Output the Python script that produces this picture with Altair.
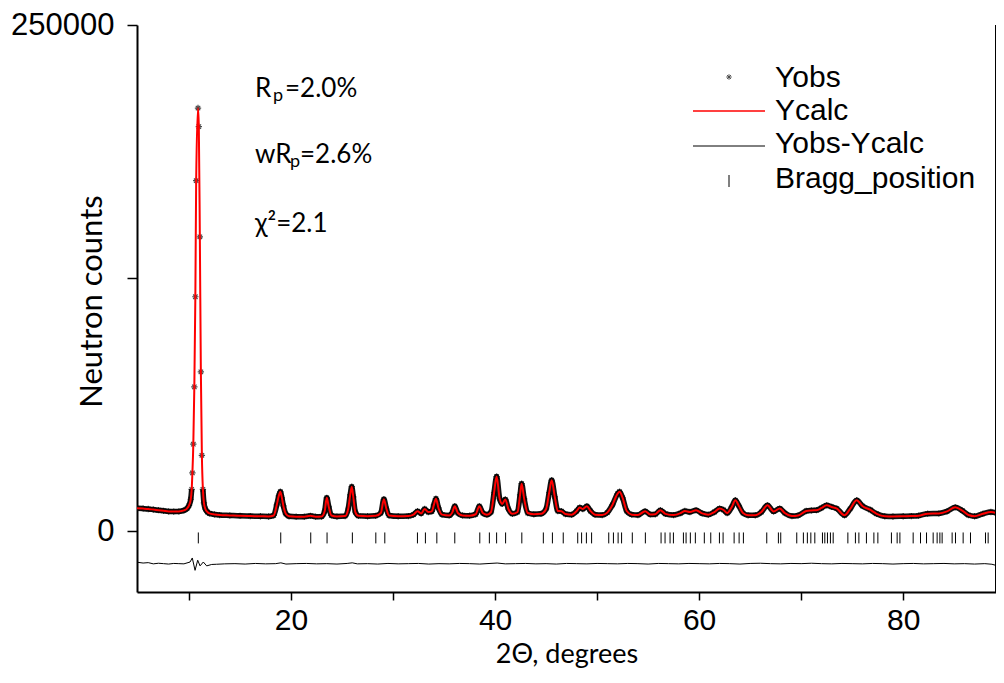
import altair as alt
import pandas as pd

# ---------------- data ----------------
two_theta = [
    4.9, 5.5, 6.0, 6.5, 7.0, 7.5, 8.0, 8.5, 9.0, 9.5, 9.8, 10.0, 10.17, 10.26, 10.33, 10.42,
    10.52, 10.62, 10.7, 10.88, 10.96, 11.06, 11.16, 11.26, 11.36, 11.46, 11.6, 11.8, 12.0,
    12.5, 13.0, 14.0, 15.0, 16.0, 17.0, 17.8, 18.3, 18.6, 18.8, 18.95, 19.1, 19.25, 19.5,
    19.8, 20.5, 21.3, 21.9, 22.4, 23.0, 23.3, 23.5, 23.7, 23.95, 24.5, 25.3, 25.6, 25.8,
    25.95, 26.1, 26.3, 26.6, 27.5, 28.3, 28.8, 29.1, 29.35, 29.6, 30.5, 31.5, 32.0, 32.4,
    32.75, 33.1, 33.45, 33.8, 34.0, 34.2, 34.45, 34.8, 35.5, 35.8, 36.05, 36.35, 36.8, 37.5,
    38.1, 38.45, 38.8, 39.2, 39.6, 39.9, 40.15, 40.45, 40.7, 41.0, 41.3, 41.7, 42.2, 42.45,
    42.6, 42.85, 43.2, 43.8, 44.5, 45.0, 45.3, 45.55, 45.85, 46.15, 46.5, 46.9, 47.5, 48.0,
    48.3, 48.6, 49.0, 49.35, 49.8, 50.5, 51.0, 51.5, 52.0, 52.2, 52.5, 52.9, 53.4, 54.0,
    54.7, 55.2, 55.7, 56.2, 56.7, 57.5, 58.2, 58.6, 59.1, 59.7, 60.3, 60.9, 61.5, 62.0,
    62.4, 62.75, 63.2, 63.55, 63.9, 64.3, 64.8, 65.5, 66.1, 66.7, 67.3, 67.9, 68.4, 69.1,
    69.7, 70.5, 71.0, 71.5, 72.0, 72.5, 73.0, 73.5, 74.25, 74.8, 75.45, 76.0, 76.8, 77.4,
    78.2, 79.0, 80.0, 80.8, 81.5, 82.4, 83.5, 84.3, 85.1, 85.8, 86.4, 87.0, 87.8, 88.6,
    89.3, 89.8,
]
y_calc = [
    11400, 11200, 11000, 10700, 10400, 10100, 9800, 9700, 9800, 10300, 11200, 12800, 15800,
    20700, 28800, 43000, 71300, 115800, 173100, 209000, 199800, 145400, 78700, 37500, 20700,
    14000, 11000, 9500, 8800, 8300, 8000, 7800, 7600, 7500, 7400, 7300, 7800, 13000, 17500,
    19500, 16500, 12500, 8500, 7400, 7200, 7200, 7600, 7200, 7300, 10000, 16500, 12000, 7800,
    7300, 7500, 11000, 18000, 22000, 17000, 9500, 7600, 7400, 7600, 9000, 15800, 11000, 7800,
    7400, 7500, 8200, 9900, 8800, 11000, 9500, 9800, 13000, 16100, 11500, 8200, 7800, 9200,
    12400, 9000, 7800, 7700, 8400, 12400, 9000, 8200, 9500, 19000, 27000, 16000, 13500,
    15700, 11000, 8600, 9500, 18000, 23500, 16000, 9000, 8400, 8600, 11000, 19000, 25200,
    17000, 10000, 9900, 8500, 8200, 10000, 11700, 11000, 12400, 10000, 8200, 8000, 9200,
    13000, 18500, 19500, 16500, 10000, 8200, 8000, 9900, 8300, 8400, 10400, 8600, 8000, 9000,
    10000, 9500, 10400, 8800, 8200, 9500, 11200, 10500, 9000, 12000, 15300, 12500, 9000,
    7900, 7900, 9500, 12800, 9800, 11200, 9000, 7500, 7800, 10000, 10300, 10400, 11500,
    12800, 12000, 11200, 7900, 11000, 15300, 12500, 10500, 8600, 7400, 7300, 7400, 7500,
    7700, 8700, 8800, 9800, 11800, 10200, 8000, 7400, 8600, 9500, 8600, 7100,
]
# observed points coincide with the fit within the picture's resolution
y_obs = [
    11400, 11200, 11000, 10700, 10400, 10100, 9800, 9700, 9800, 10300, 11200, 12800, 15800,
    20700, 28800, 43000, 71300, 115800, 173100, 209000, 199800, 145400, 78700, 37500, 20700,
    14000, 11000, 9500, 8800, 8300, 8000, 7800, 7600, 7500, 7400, 7300, 7800, 13000, 17500,
    19500, 16500, 12500, 8500, 7400, 7200, 7200, 7600, 7200, 7300, 10000, 16500, 12000, 7800,
    7300, 7500, 11000, 18000, 22000, 17000, 9500, 7600, 7400, 7600, 9000, 15800, 11000, 7800,
    7400, 7500, 8200, 9900, 8800, 11000, 9500, 9800, 13000, 16100, 11500, 8200, 7800, 9200,
    12400, 9000, 7800, 7700, 8400, 12400, 9000, 8200, 9500, 19000, 27000, 16000, 13500,
    15700, 11000, 8600, 9500, 18000, 23500, 16000, 9000, 8400, 8600, 11000, 19000, 25200,
    17000, 10000, 9900, 8500, 8200, 10000, 11700, 11000, 12400, 10000, 8200, 8000, 9200,
    13000, 18500, 19500, 16500, 10000, 8200, 8000, 9900, 8300, 8400, 10400, 8600, 8000, 9000,
    10000, 9500, 10400, 8800, 8200, 9500, 11200, 10500, 9000, 12000, 15300, 12500, 9000,
    7900, 7900, 9500, 12800, 9800, 11200, 9000, 7500, 7800, 10000, 10300, 10400, 11500,
    12800, 12000, 11200, 7900, 11000, 15300, 12500, 10500, 8600, 7400, 7300, 7400, 7500,
    7700, 8700, 8800, 9800, 11800, 10200, 8000, 7400, 8600, 9500, 8600, 7100,
]

diff_theta = [
    4.9, 5.5, 6.0, 6.5, 7.0, 7.5, 8.0, 8.5, 9.0, 9.5, 10.1, 10.32, 10.59, 10.85, 11.08, 11.4,
    11.73, 12.22, 12.7, 13.5, 14.5, 15.5, 16.5, 17.5, 18.5, 19.0, 19.5, 20.5, 21.5, 22.5,
    23.5, 24.5, 25.5, 26.0, 26.5, 27.5, 28.5, 29.5, 30.5, 31.5, 32.5, 33.5, 34.5, 35.5, 36.5,
    37.5, 38.5, 39.5, 40.2, 41.0, 42.0, 43.0, 44.0, 45.0, 46.0, 47.0, 48.0, 49.0, 50.0, 51.0,
    52.0, 53.0, 54.0, 55.0, 56.0, 57.0, 58.0, 59.0, 60.0, 61.0, 62.0, 63.0, 64.0, 65.0, 66.0,
    67.0, 68.0, 69.0, 70.0, 71.0, 72.0, 73.0, 74.0, 75.0, 76.0, 77.0, 78.0, 79.0, 80.0, 81.0,
    82.0, 83.0, 84.0, 85.0, 86.0, 87.0, 88.0, 88.7, 89.2, 89.5, 89.8,
]
y_diff = [
    -15300, -15700, -15500, -16100, -15800, -16000, -16200, -15900, -16000, -16100, -15200,
    -13200, -19300, -14300, -17100, -15200, -17100, -16400, -16300, -16100, -16000, -16200,
    -15900, -16100, -16000, -15600, -16200, -16000, -15900, -16100, -16000, -16200, -15900,
    -15600, -16100, -16000, -16200, -15900, -16100, -16000, -15900, -16200, -16000, -16100,
    -15900, -16000, -16200, -15900, -15700, -16100, -16000, -15900, -16100, -16000, -16200,
    -15900, -16000, -16100, -15900, -16000, -16100, -15900, -16000, -16200, -15900, -16000,
    -16100, -15900, -16000, -16100, -15900, -16000, -16200, -15900, -15800, -16000, -16100,
    -15900, -16000, -15800, -16000, -16100, -15900, -16000, -16100, -15900, -16000, -16200,
    -16000, -15900, -16100, -16000, -15900, -16100, -16000, -16200, -16000, -16300, -17000,
    -17300, -15900,
]

bragg_theta = [
    10.91, 18.99, 21.93, 23.53, 26.01, 28.31, 29.19, 32.39, 33.17, 34.29, 36.05, 38.5, 39.44,
    40.15, 41.03, 42.62, 44.73, 45.62, 46.68, 48.1, 48.48, 48.95, 49.46, 51.14, 51.6, 52.06,
    52.4, 53.45, 54.73, 56.27, 56.66, 57.15, 57.48, 58.46, 58.72, 59.14, 59.63, 60.51, 61.14,
    61.99, 62.35, 63.43, 63.92, 64.34, 66.63, 67.77, 68.0, 69.57, 70.22, 70.61, 70.95, 71.34,
    72.09, 72.32, 72.58, 72.87, 73.14, 74.58, 75.32, 75.66, 76.4, 77.13, 77.52, 78.85, 79.41,
    79.68, 80.98, 81.7, 82.29, 82.94, 83.33, 83.6, 83.82, 84.8, 85.13, 85.88, 86.6, 88.07,
    88.33, 89.14, 89.38,
]

legend_labels = ["Yobs", "Ycalc", "Yobs-Ycalc", "Bragg_position"]
x_ticks = [10, 20, 30, 40, 50, 60, 70, 80]
y_ticks = [0, 125000, 250000]
x_domain = [4.9, 89.1]
y_domain = [-30000, 250000]

# ---------------- chart ----------------
W, H = 859, 567
ARIAL = "Liberation Sans, Arial, sans-serif"
CALIBRI = "Lato, Noto Sans, sans-serif"
ASTERISK = "M-1,0L1,0M0,-1L0,1M-0.7,-0.7L0.7,0.7M-0.7,0.7L0.7,-0.7"

prof = pd.DataFrame({"tt": two_theta, "calc": y_calc, "obs": y_obs})
diff = pd.DataFrame({"tt": diff_theta, "d": y_diff})
bragg = pd.DataFrame({"tt": bragg_theta})

xs = alt.Scale(domain=x_domain, nice=False, zero=False)
ys = alt.Scale(domain=y_domain, nice=False, zero=False)

x_axis = alt.Axis(
    values=x_ticks,
    labelExpr="datum.value % 20 == 0 ? datum.label : ''",
    title="2Θ, degrees",
    titleFont=CALIBRI, titleFontSize=27, titleFontWeight="normal",
    titleBaseline="alphabetic", titleY=70,
    labelFont=ARIAL, labelFontSize=30, labelPadding=5, tickSize=8,
    labelFlush=False, grid=False,
)
y_axis = alt.Axis(
    values=y_ticks, format="d",
    labelExpr="datum.value == 125000 ? '' : datum.label",
    title="Neutron counts",
    titleFont=CALIBRI, titleFontSize=31, titleFontWeight="normal",
    titleAngle=270, titleAlign="center", titleBaseline="middle",
    titleX=-45, titleY=276,
    labelFont=ARIAL, labelFontSize=31, labelPadding=13, tickSize=10,
    labelFlush=False, grid=False,
)

X = alt.X("tt:Q", scale=xs, axis=x_axis, title="2Θ, degrees")


def Y(field):
    return alt.Y(field, scale=ys, axis=y_axis, title="Neutron counts")


base = alt.Chart(prof)

band = base.transform_filter("datum.tt < 10.3 || datum.tt > 11.3").transform_calculate(
    seg="datum.tt < 10.6 ? 'a' : 'b'"
).mark_line(color="#111111", strokeWidth=5.5, interpolate="monotone", clip=True).encode(
    x=X, y=Y("obs:Q"), detail="seg:N",
)

obs_pts = base.mark_point(shape=ASTERISK, size=40, filled=False, color="black",
                          strokeWidth=1.2, clip=True).encode(x=X, y=Y("obs:Q"))

calc_line = base.mark_line(color="#ff0000", strokeWidth=2, interpolate="monotone",
                           clip=True).encode(x=X, y=Y("calc:Q"))

diff_line = alt.Chart(diff).mark_line(color="black", strokeWidth=1, clip=True).encode(
    x=X, y=Y("d:Q"))

bragg_ticks = alt.Chart(bragg).mark_rule(color="black", strokeWidth=1, clip=True).encode(
    x=X,
    y=alt.YDatum(-600, scale=ys, axis=y_axis, title="Neutron counts"),
    y2=alt.Y2Datum(-6000),
)

right_border = alt.Chart(bragg).mark_rule(color="black", strokeWidth=2).encode(
    x=alt.value(W), y=alt.value(0), y2=alt.value(H)
)

# ---- legend (manual, inside the plot) ----
def legend_text(label, ypix):
    return alt.Chart(pd.DataFrame({"t": [label]})).mark_text(
        font=ARIAL, fontSize=30, align="left", baseline="alphabetic", color="black"
    ).encode(text="t:N", x=alt.value(638), y=alt.value(ypix))

leg_texts = [legend_text(lbl, yp) for lbl, yp in zip(legend_labels, [61.7, 95, 128.3, 163.3])]

one = pd.DataFrame({"k": [0]})
leg_star = alt.Chart(one).mark_point(shape=ASTERISK, size=30, filled=False, color="black",
                                     strokeWidth=1).encode(x=alt.value(592), y=alt.value(52))
leg_red = alt.Chart(one).mark_rule(color="#ff0000", strokeWidth=1.5).encode(
    x=alt.value(556), x2=alt.value(628), y=alt.value(86))
leg_black = alt.Chart(one).mark_rule(color="black", strokeWidth=1).encode(
    x=alt.value(556), x2=alt.value(628), y=alt.value(121))
leg_tick = alt.Chart(one).mark_rule(color="black", strokeWidth=1).encode(
    x=alt.value(592), y=alt.value(150), y2=alt.value(162))

# ---- statistics annotation ----
def ann(txt, xpix, ypix, size=26):
    return alt.Chart(pd.DataFrame({"t": [txt]})).mark_text(
        font=CALIBRI, fontSize=size, align="left", baseline="alphabetic", color="black"
    ).encode(text="t:N", x=alt.value(xpix), y=alt.value(ypix))

annotations = [
    ann("R", 118, 71.7), ann("p", 136, 76, 18), ann("=2.0%", 148, 71.7),
    ann("wR", 118, 138), ann("p", 153, 142.3, 18), ann("=2.6%", 163, 138),
    ann("χ²=2.1", 118, 206.7),
]

chart = alt.layer(
    band, obs_pts, calc_line, diff_line, bragg_ticks, right_border,
    *leg_texts, leg_star, leg_red, leg_black, leg_tick, *annotations,
).properties(
    width=W, height=H,
    autosize=alt.AutoSizeParams(type="none"),
    padding={"left": 129, "top": 17, "right": 0, "bottom": 79},
).configure_view(stroke=None).configure_axis(
    domainColor="black", domainWidth=2, tickColor="black", tickWidth=1.5,
    labelColor="black", titleColor="black",
)

chart.save("out.html", embed_options={"renderer": "svg", "actions": False})
